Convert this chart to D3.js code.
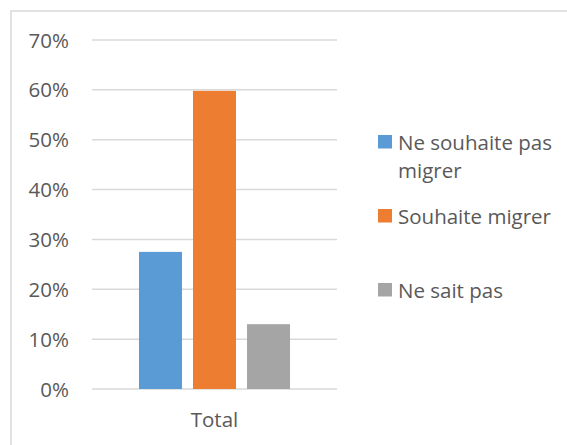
<!DOCTYPE html>
<html>
<head>
<meta charset="utf-8">
<script src="https://cdn.jsdelivr.net/npm/d3@7"></script>
<style>
  html, body { margin: 0; padding: 0; background: #fff; }
  svg { display: block; font-family: "Open Sans", sans-serif; }
</style>
</head>
<body>
<svg id="chart" width="567" height="445"></svg>
<script>
// data
const categories = ["Total"];
const seriesNames = ["Ne souhaite pas migrer", "Souhaite migrer", "Ne sait pas"];
const seriesValues = [0.275, 0.598, 0.13];
const seriesColors = ["#5b9bd5", "#ed7d31", "#a5a5a5"];
const yTicks = [0, 0.1, 0.2, 0.3, 0.4, 0.5, 0.6, 0.7];
// legend labels, split as wrapped in the original
const legendLines = [["Ne souhaite pas", "migrer"], ["Souhaite migrer"], ["Ne sait pas"]];

const svg = d3.select("#chart");
const textColor = "#595959";
const gridColor = "#d9d9d9";
const fontSize = 20.5;

// outer frame (cut off at right and bottom)
svg.append("path")
    .attr("d", "M11,445V11H567")
    .attr("fill", "none")
    .attr("stroke", gridColor)
    .attr("stroke-width", 1.5);

const plot = { left: 92, right: 337, top: 40, bottom: 389 };

const y = d3.scaleLinear().domain([0, 0.7]).range([plot.bottom, plot.top]);
const x0 = d3.scaleBand().domain(categories).range([plot.left, plot.right]).paddingOuter(0.311);
const x1 = d3.scaleBand().domain(seriesNames).range([0, x0.bandwidth()]).paddingInner(0.204);

// gridlines
svg.append("g")
    .selectAll("line")
    .data(yTicks)
    .join("line")
    .attr("x1", plot.left)
    .attr("x2", plot.right)
    .attr("y1", d => y(d))
    .attr("y2", d => y(d))
    .attr("stroke", gridColor)
    .attr("stroke-width", 1.5);

// y labels
svg.append("g")
    .selectAll("text")
    .data(yTicks)
    .join("text")
    .attr("x", 69)
    .attr("y", d => y(d) + 7.5)
    .attr("text-anchor", "end")
    .attr("fill", textColor)
    .attr("font-size", fontSize)
    .text(d3.format(".0%"));

// bars
const rows = seriesNames.map((name, i) => ({ cat: categories[0], name, value: seriesValues[i], color: seriesColors[i] }));
svg.append("g")
    .selectAll("rect")
    .data(rows)
    .join("rect")
    .attr("x", d => x0(d.cat) + x1(d.name))
    .attr("width", x1.bandwidth())
    .attr("y", d => y(d.value))
    .attr("height", d => y(0) - y(d.value))
    .attr("fill", d => d.color);

// x labels
svg.append("g")
    .selectAll("text")
    .data(categories)
    .join("text")
    .attr("x", d => x0(d) + x0.bandwidth() / 2)
    .attr("y", 427)
    .attr("text-anchor", "middle")
    .attr("fill", textColor)
    .attr("font-size", fontSize)
    .text(d => d);

// legend
const legendTops = [135, 209, 283];
const leg = svg.append("g")
    .selectAll("g")
    .data(rows)
    .join("g")
    .attr("transform", (d, i) => `translate(378,${legendTops[i]})`);
leg.append("rect")
    .attr("width", 14)
    .attr("height", 13.5)
    .attr("fill", d => d.color);
leg.append("text")
    .attr("fill", textColor)
    .attr("font-size", fontSize)
    .selectAll("tspan")
    .data((d, i) => legendLines[i])
    .join("tspan")
    .attr("x", 20)
    .attr("y", (d, j) => 15 + j * 28)
    .text(d => d);
</script>
</body>
</html>
